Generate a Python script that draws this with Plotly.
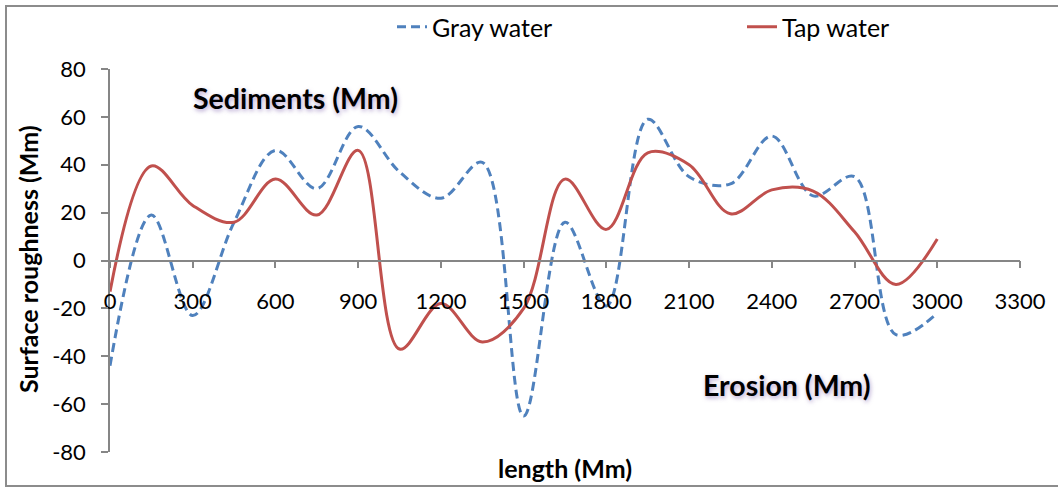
import plotly.graph_objects as go

length_mm = [0, 150, 300, 450, 600, 750, 900, 1050, 1200, 1350, 1500,
             1650, 1800, 1950, 2100, 2250, 2400, 2550, 2700, 2850, 3000]
gray_water = [-44, 19, -23, 16, 46, 30, 56, 37, 26, 41, -65,
              16, -19, 59, 35, 32, 52, 27, 35, -31, -22]
tap_water = [-13, 39.5, 23, 16, 34, 19, 46, -37, -18, -34, -20,
             34, 13, 45, 40, 19.5, 29.5, 29, 12, -10, 9]
x_ticks = list(range(0, 3301, 300))
y_ticks = list(range(-80, 81, 20))

FONT = "Lato"
W, H = 1058, 487
ML, MR, MT, MB = 110, 38, 69, 35
PW, PH = W - ML - MR, H - MT - MB


def px(xp):
    return (xp - ML) / PW


def py(yp):
    return (H - MB - yp) / PH


fig = go.Figure()
fig.add_trace(go.Scatter(
    x=length_mm, y=gray_water, name="Gray water", mode="lines",
    line=dict(color="#4F81BD", width=3, dash="9px,5px", shape="spline", smoothing=1.0),
))
fig.add_trace(go.Scatter(
    x=length_mm, y=tap_water, name="Tap water", mode="lines",
    line=dict(color="#C0504D", width=3, shape="spline", smoothing=1.0),
))

axis_col = "#868686"
fig.update_layout(
    width=W, height=H,
    margin=dict(l=ML, r=MR, t=MT, b=MB, autoexpand=False),
    paper_bgcolor="white", plot_bgcolor="white",
    font=dict(family=FONT, color="black"),
    showlegend=True,
    legend=dict(
        orientation="h", x=px(392), xanchor="left", y=py(27), yanchor="middle",
        font=dict(family=FONT, size=25, color="black"),
        entrywidth=305, entrywidthmode="pixels",
        bgcolor="rgba(0,0,0,0)",
    ),
    xaxis=dict(
        range=[0, 3300], tickvals=x_ticks, ticktext=[str(v) for v in x_ticks],
        showline=True, linecolor=axis_col, linewidth=1.5,
        ticks="outside", ticklen=7, tickcolor=axis_col, tickwidth=1.5,
        showgrid=False, zeroline=False,
        anchor="free", position=0.5,
        tickfont=dict(family=FONT, size=22, color="black"),
        ticklabelstandoff=14,
    ),
    yaxis=dict(
        range=[-80, 80], tickvals=y_ticks, ticktext=[str(v) for v in y_ticks],
        showline=True, linecolor=axis_col, linewidth=1.5,
        ticks="outside", ticklen=7, tickcolor=axis_col, tickwidth=1.5,
        showgrid=False, zeroline=False,
        tickfont=dict(family=FONT, size=22, color="black"),
        ticklabelstandoff=11,
    ),
    annotations=[
        dict(text="<b>Surface roughness (Mm)</b>", xref="paper", yref="paper",
             x=px(28), y=py(259), textangle=-90, showarrow=False,
             xanchor="center", yanchor="middle",
             font=dict(family=FONT, size=25, color="black")),
        dict(text="<b>length (Mm)</b>", xref="paper", yref="paper",
             x=px(565), y=py(468), showarrow=False,
             xanchor="center", yanchor="middle",
             font=dict(family=FONT, size=25, color="black")),
        dict(text="<b>Sediments (Mm)</b>", xref="x", yref="y",
             x=671, y=68, showarrow=False, xanchor="center", yanchor="middle",
             font=dict(family=FONT, size=28.5, color="black",
                       shadow="1px 2px 4px rgba(120,90,170,0.55)")),
        dict(text="<b>Erosion (Mm)</b>", xref="x", yref="y",
             x=2454, y=-52, showarrow=False, xanchor="center", yanchor="middle",
             font=dict(family=FONT, size=28.5, color="black",
                       shadow="1px 2px 4px rgba(120,90,170,0.55)")),
    ],
    shapes=[
        dict(type="rect", xref="paper", yref="paper",
             x0=px(6), x1=px(1075), y0=py(486), y1=py(6),
             line=dict(color="#8C8C8C", width=2), layer="below"),
    ],
)

fig.write_html("out.html", config={"displayModeBar": False},
               post_script="document.body.style.margin='0';document.body.style.overflow='hidden';")
